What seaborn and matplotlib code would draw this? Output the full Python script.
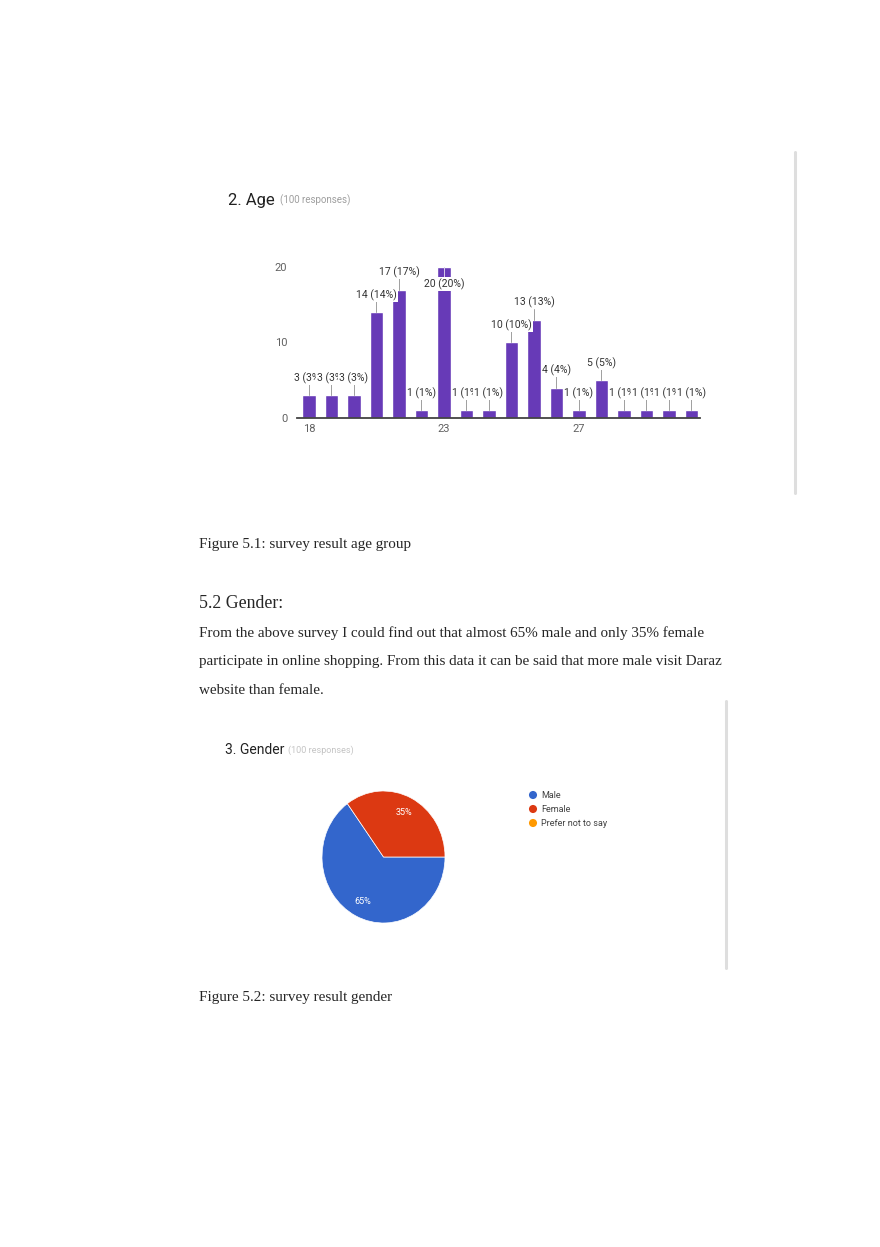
import matplotlib
matplotlib.use("Agg")
import matplotlib.pyplot as plt
from matplotlib.lines import Line2D
import seaborn as sns
import pandas as pd

# ── Data ─────────────────────────────────────────────────────────────────────
AGE_TICKS  = ["18", "", "", "", "", "", "23", "", "", "", "", "", "27", "", "", "", "", ""]
AGE_COUNTS = [3, 3, 3, 14, 17, 1, 20, 1, 1, 10, 13, 4, 1, 5, 1, 1, 1, 1]
AGE_YTICKS = [0, 10, 20]

GENDER_LABELS = ["Male", "Female", "Prefer not to say"]
GENDER_SHARE  = [65, 35, 0]
GENDER_COLORS = ["#3366cc", "#dc3912", "#ff9900"]

CAPTION_AGE    = "Figure 5.1: survey result age group"
CAPTION_GENDER = "Figure 5.2: survey result gender"
HEADING        = "5.2 Gender:"
PARAGRAPH = [
    "From the above survey I could find out that almost 65% male and only 35% female",
    "participate in online shopping. From this data it can be said that more male visit Daraz",
    "website than female.",
]

# ── Page setup ───────────────────────────────────────────────────────────────
W, H = 880, 1247
sns.set_style("white")
plt.rcParams["font.family"] = ["Roboto", "DejaVu Sans"]
SERIF = ["Liberation Serif", "DejaVu Serif"]

fig = plt.figure(figsize=(W / 100, H / 100), dpi=100)
fig.patch.set_facecolor("white")


def px_axes(x0, y0, x1, y1):
    return fig.add_axes([x0 / W, 1 - y1 / H, (x1 - x0) / W, (y1 - y0) / H])


def px_text(x, y, s, **kw):
    fig.text(x / W, 1 - y / H, s, **kw)


def px_vline(x, y0, y1):
    fig.add_artist(Line2D([x / W, x / W], [1 - y0 / H, 1 - y1 / H],
                          color="#dedede", lw=2.2))


# ── Figure 5.1: age bar chart ────────────────────────────────────────────────
px_text(228, 200, "2. Age", fontsize=12, va="center", color="#212121")
px_text(280, 200, "(100 responses)", fontsize=7, va="center", color="#9e9e9e")
px_vline(795, 152, 493)

ax = px_axes(297, 250, 700, 418)
df_age = pd.DataFrame({"slot": range(len(AGE_COUNTS)), "count": AGE_COUNTS})
sns.barplot(data=df_age, x="slot", y="count", color="#673ab7", saturation=1,
            width=0.6, ax=ax)
ax.set_xlim(-0.53, 17.38)
ax.set_ylim(0, 22.25)
ax.set_xticks(range(len(AGE_TICKS)))
ax.set_xticklabels(AGE_TICKS)
ax.set_yticks(AGE_YTICKS)
ax.tick_params(axis="both", length=0, labelsize=8, labelcolor="#616161")
ax.tick_params(axis="x", pad=4)
ax.tick_params(axis="y", pad=7)
ax.set_xlabel("")
ax.set_ylabel("")
for side in ["top", "right", "left"]:
    ax.spines[side].set_visible(False)
ax.spines["bottom"].set_color("#424242")
ax.spines["bottom"].set_linewidth(1.3)
ax.patch.set_alpha(0)

total = sum(AGE_COUNTS)
for i, v in enumerate(AGE_COUNTS):
    pct = round(v / total * 100)
    up = v + 2.3 <= 20.5
    if up:
        ax.plot([i, i], [v, v + 1.5], color="#9e9e9e", lw=0.7,
                zorder=5 + 2 * i, clip_on=False)
        ly = v + 2.3
    else:
        ax.plot([i, i], [v, v - 1.6], color="#d6cdea", lw=0.7,
                zorder=5 + 2 * i, clip_on=False)
        ly = v - 2.3
    ax.text(i, ly, f"{v} ({pct}%)", ha="center", va="center", fontsize=7.5,
            color="#333333", zorder=6 + 2 * i, clip_on=False,
            bbox=dict(boxstyle="square,pad=0.12", fc="white", ec="none"))

px_text(199, 548, CAPTION_AGE, fontsize=10.9, family=SERIF, va="baseline")

# ── Section text ─────────────────────────────────────────────────────────────
px_text(199, 608, HEADING, fontsize=12.8, family=SERIF, va="baseline")
for k, line in enumerate(PARAGRAPH):
    px_text(199, 637 + 28.5 * k, line, fontsize=10.92, family=SERIF, va="baseline")

# ── Figure 5.2: gender pie chart ─────────────────────────────────────────────
px_text(225, 750, "3. Gender", fontsize=10, va="center", color="#212121")
px_text(288, 750, "(100 responses)", fontsize=6.5, va="center", color="#c4c4c4")
px_vline(726, 701, 968)

pax = px_axes(322, 791, 445, 923)
shown = [(s, c) for s, c in zip(GENDER_SHARE, GENDER_COLORS) if s > 0]
pax.pie([s for s, _ in shown], colors=[c for _, c in shown],
        startangle=126, counterclock=True,
        autopct=lambda p: f"{p:.0f}%", pctdistance=0.75,
        wedgeprops=dict(edgecolor="white", linewidth=0.5),
        textprops=dict(color="white", fontsize=6.5))
pax.set_aspect("auto")
pax.set_xlim(-1, 1)
pax.set_ylim(-1, 1)

lax = px_axes(520, 785, 660, 833)
lax.set_xlim(520, 660)
lax.set_ylim(833, 785)
lax.axis("off")
for k, (name, col) in enumerate(zip(GENDER_LABELS, GENDER_COLORS)):
    y = 795 + 14 * k
    lax.scatter([533], [y], s=34, color=col, edgecolors="none")
    lax.text(541, y, name, fontsize=6.5, va="center", color="#424242")

px_text(199, 1001, CAPTION_GENDER, fontsize=10.9, family=SERIF, va="baseline")

fig.savefig("out.png", dpi=100)
plt.close(fig)
